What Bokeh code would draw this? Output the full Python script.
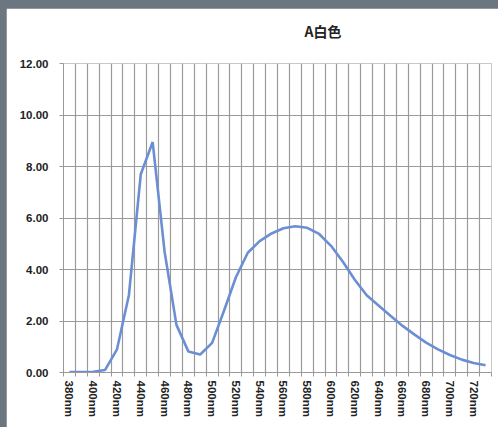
import math
from bokeh.plotting import figure
from bokeh.layouts import column
from bokeh.models import FixedTicker, Range1d, NumeralTickFormatter
from bokeh.embed import file_html
from bokeh.resources import INLINE

wavelengths = [380, 390, 400, 410, 420, 430, 440, 450, 460, 470, 480, 490,
               500, 510, 520, 530, 540, 550, 560, 570, 580, 590, 600, 610,
               620, 630, 640, 650, 660, 670, 680, 690, 700, 710, 720, 730]
intensity = [0.02, 0.02, 0.03, 0.10, 0.90, 3.00, 7.70, 8.95, 4.70, 1.85, 0.82, 0.70,
             1.15, 2.40, 3.70, 4.65, 5.10, 5.40, 5.60, 5.68, 5.62, 5.38, 4.92, 4.30,
             3.60, 3.00, 2.60, 2.20, 1.82, 1.48, 1.16, 0.90, 0.68, 0.50, 0.37, 0.28]
label_wavelengths = [380, 400, 420, 440, 460, 480, 500, 520, 540, 560, 580,
                     600, 620, 640, 660, 680, 700, 720]
y_ticks = [0, 2, 4, 6, 8, 10, 12]
title_text = "A白色"

step = 10
x_lo = wavelengths[0] - step / 2
x_hi = wavelengths[-1] + step / 2
boundaries = [w - step / 2 for w in wavelengths] + [x_hi]

p = figure(width=492, height=419, output_backend="svg", toolbar_location=None,
           x_range=Range1d(x_lo, x_hi), y_range=Range1d(0, 12),
           min_border_left=57, min_border_right=7, min_border_top=55,
           min_border_bottom=55)
p.margin = (8, 0, 0, 6)
p.background_fill_color = "white"
p.border_fill_color = "white"
p.outline_line_color = "#c8c8c8"

p.title.text = title_text
p.title.text_font = "Noto Sans CJK SC"
p.title.text_font_style = "bold"
p.title.text_font_size = "14px"
p.title.text_color = "#222222"
p.title.align = "left"
p.title.offset = 241
p.title.standoff = 0
p.title.padding = dict(left=0, right=0, top=0, bottom=23)

p.line(wavelengths, intensity, line_color="#6b8fd2", line_width=2.6)

xa = p.xaxis[0]
xa.ticker = FixedTicker(ticks=label_wavelengths, minor_ticks=boundaries)
xa.major_label_overrides = {w: f"{w}nm" for w in label_wavelengths}
xa.major_label_orientation = -math.pi / 2
xa.major_tick_out = 0
xa.major_tick_in = 0
xa.minor_tick_out = 4
xa.minor_tick_in = 0
xa.minor_tick_line_color = "#999999"
xa.axis_line_color = "#999999"
xa.major_label_text_font = "Liberation Sans"
xa.major_label_text_font_style = "bold"
xa.major_label_text_font_size = "11.5px"
xa.major_label_text_color = "#222222"
xa.major_label_standoff = 4

ya = p.yaxis[0]
ya.ticker = FixedTicker(ticks=y_ticks)
ya.formatter = NumeralTickFormatter(format="0.00")
ya.major_tick_out = 4
ya.major_tick_in = 0
ya.minor_tick_out = 0
ya.minor_tick_in = 0
ya.major_tick_line_color = "#999999"
ya.axis_line_color = "#999999"
ya.major_label_text_font = "Liberation Sans"
ya.major_label_text_font_style = "bold"
ya.major_label_text_font_size = "11.5px"
ya.major_label_text_color = "#222222"
ya.major_label_standoff = 11

p.xgrid.ticker = FixedTicker(ticks=boundaries)
p.xgrid.grid_line_color = "#9a9a9a"
p.xgrid.grid_line_width = 1.2
p.ygrid.grid_line_color = "#9a9a9a"
p.ygrid.grid_line_width = 1.2

layout = column(p, styles={"background-color": "#6b7681"})

open("out.html", "w").write(file_html(layout, INLINE))
